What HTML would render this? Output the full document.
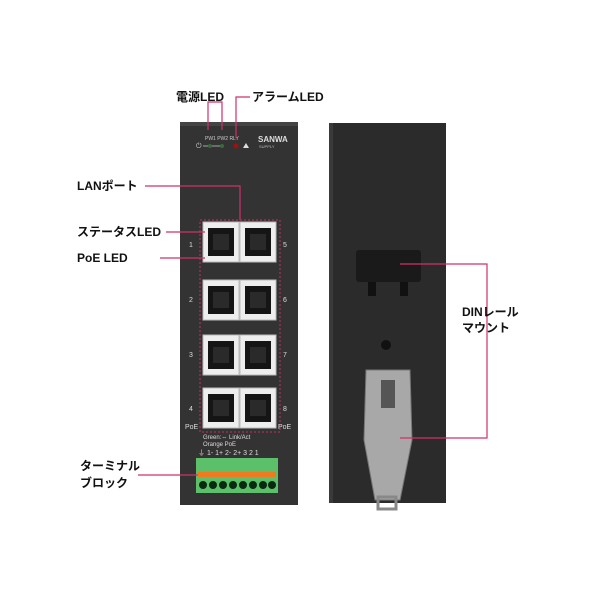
<!DOCTYPE html>
<html><head><meta charset="utf-8"><style>
body{margin:0;background:#fff;}
svg{display:block;font-family:"Liberation Sans","Noto Sans CJK JP",sans-serif;}
</style></head><body>
<svg width="600" height="600" viewBox="0 0 600 600">
<defs>
<g id="port">
<rect x="0" y="0" width="36" height="40" fill="#eee" stroke="#bbb"/>
<rect x="5" y="6" width="26" height="28" fill="#151515"/>
<rect x="10" y="12" width="16" height="16" fill="#2a2a2a"/>
</g>
</defs>
<!-- left device -->
<rect x="180" y="122" width="118" height="383" fill="#333"/>
<rect x="180" y="122" width="118" height="4" fill="#444"/>
<text x="205" y="140" font-size="5" fill="#ccc">PW1 PW2 RLY</text>
<text x="258" y="142" font-size="8" fill="#ddd" font-weight="bold">SANWA</text>
<text x="259" y="148" font-size="4" fill="#bbb">SUPPLY</text>
<text x="196" y="148" font-size="7" fill="#ccc">⏻</text>
<line x1="203" y1="146" x2="222" y2="146" stroke="#ccc" stroke-width="0.8"/>
<circle cx="210" cy="146" r="2" fill="#3a6a3a"/><circle cx="222" cy="146" r="2" fill="#3a6a3a"/>
<circle cx="236" cy="146" r="2.5" fill="#a01010"/>
<polygon points="243,148 246,143 249,148" fill="#ddd"/>
<rect x="200" y="220" width="80" height="212" fill="none" stroke="#c0305a" stroke-dasharray="2,2"/>
<use href="#port" x="203" y="222"/><use href="#port" x="240" y="222"/>
<use href="#port" x="203" y="280"/><use href="#port" x="240" y="280"/>
<use href="#port" x="203" y="335"/><use href="#port" x="240" y="335"/>
<use href="#port" x="203" y="388"/><use href="#port" x="240" y="388"/>
<g font-size="7" fill="#ddd">
<text x="189" y="247">1</text><text x="283" y="247">5</text>
<text x="189" y="302">2</text><text x="283" y="302">6</text>
<text x="189" y="357">3</text><text x="283" y="357">7</text>
<text x="189" y="411">4</text><text x="283" y="411">8</text>
<text x="185" y="429">PoE</text><text x="278" y="429">PoE</text>
<text x="203" y="439" font-size="6">Green:⇔ Link/Act</text>
<text x="203" y="446" font-size="6">Orange PoE</text>
<text x="198" y="455" font-size="7">⏚ 1- 1+ 2- 2+ 3 2 1</text>
</g>
<rect x="196" y="458" width="82" height="35" fill="#5cc06a"/>
<rect x="198" y="472" width="78" height="5" fill="#f07a20"/>
<g fill="#0a2a10">
<circle cx="203" cy="485" r="4"/><circle cx="213" cy="485" r="4"/><circle cx="223" cy="485" r="4"/><circle cx="233" cy="485" r="4"/>
<circle cx="243" cy="485" r="4"/><circle cx="253" cy="485" r="4"/><circle cx="263" cy="485" r="4"/><circle cx="272" cy="485" r="4"/>
</g>
<!-- right device -->
<rect x="329" y="123" width="117" height="380" fill="#2b2b2b"/>
<rect x="329" y="123" width="4" height="380" fill="#3a3a3a"/>
<rect x="356" y="250" width="65" height="32" rx="3" fill="#1a1a1a"/>
<rect x="368" y="282" width="8" height="14" fill="#111"/><rect x="400" y="282" width="8" height="14" fill="#111"/>
<circle cx="386" cy="345" r="5" fill="#111"/>
<path d="M366 370 L410 370 L412 440 L400 500 L375 500 L364 440 Z" fill="#a8a8a8" stroke="#777"/>
<rect x="381" y="380" width="14" height="28" fill="#555"/>
<rect x="378" y="497" width="18" height="12" fill="none" stroke="#888" stroke-width="3"/>
<!-- callouts -->
<g stroke="#d0306a" stroke-width="1.2" fill="none">
<polyline points="208,130 208,102 222,102 222,130"/>
<polyline points="250,97 236,97 236,138"/>
<polyline points="145,186 240,186 240,220"/>
<line x1="166" y1="232" x2="205" y2="232"/>
<line x1="160" y1="258" x2="205" y2="258"/>
<line x1="138" y1="475" x2="198" y2="475"/>
<polyline points="400,264 487,264 487,438 400,438"/>
</g>
<g font-size="12" font-weight="bold" fill="#111">
<text x="176" y="101">電源LED</text>
<text x="252" y="101">アラームLED</text>
<text x="77" y="190">LANポート</text>
<text x="77" y="236">ステータスLED</text>
<text x="77" y="262">PoE LED</text>
<text x="80" y="470">ターミナル</text>
<text x="80" y="487">ブロック</text>
<text x="462" y="316">DINレール</text>
<text x="462" y="332">マウント</text>
</g>
</svg>
</body></html>
